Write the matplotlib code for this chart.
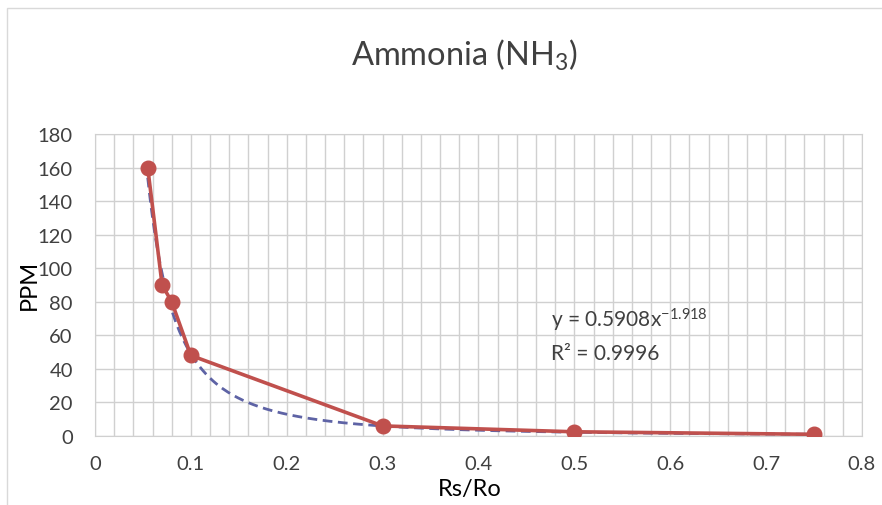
import matplotlib.pyplot as plt
import numpy as np
from matplotlib.patches import Rectangle

# データ
rs_ro = [0.055, 0.07, 0.08, 0.1, 0.3, 0.5, 0.75]
ppm = [160, 90, 80, 48, 6, 2.5, 1]
coef_a = 0.5908
coef_b = -1.918
r2 = 0.9996

x_ticks = [0, 0.1, 0.2, 0.3, 0.4, 0.5, 0.6, 0.7, 0.8]
y_ticks = [0, 20, 40, 60, 80, 100, 120, 140, 160, 180]

plt.rcParams['font.family'] = ['Lato', 'DejaVu Sans']
plt.rcParams['mathtext.fontset'] = 'custom'
plt.rcParams['mathtext.rm'] = 'Lato'
plt.rcParams['mathtext.it'] = 'Lato:italic'
plt.rcParams['mathtext.bf'] = 'Lato:bold'

fig = plt.figure(figsize=(8.82, 5.06), dpi=100)
ax = fig.add_axes([0.1077, 0.1364, 0.8696, 0.5968])

# 外枠
fig.patches.append(Rectangle((7 / 882, -0.1), 1.2, 1 - 9 / 506 + 0.1, transform=fig.transFigure,
                             fill=False, edgecolor='#D9D9D9', linewidth=1))

# トレンドライン (累乗近似)
xs = np.linspace(min(rs_ro), max(rs_ro), 400)
ax.plot(xs, coef_a * xs ** coef_b, color='#5E63A5', linestyle=(0, (3.5, 2)), linewidth=2, zorder=3)

# 実測値
ax.plot(rs_ro, ppm, color='#C0504D', linewidth=2.6, marker='o', markersize=10.5, zorder=4)

ax.set_xlim(0, 0.8)
ax.set_ylim(0, 180)
ax.set_xticks(x_ticks)
ax.set_xticklabels([f"{t:g}" for t in x_ticks])
ax.set_yticks(y_ticks)
ax.set_xticks(np.arange(0, 0.8001, 0.02), minor=True)
ax.grid(True, which='both', axis='x', color='#D0D0D0', linewidth=1)
ax.grid(True, which='major', axis='y', color='#D0D0D0', linewidth=1)
ax.tick_params(which='both', length=0, labelsize=14.5, colors='#404040')
ax.tick_params(axis='y', pad=16)
ax.tick_params(axis='x', pad=14)
for s in ax.spines.values():
    s.set_color('#D0D0D0')
ax.set_axisbelow(True)

fig.text(465 / 882, 1 - 55 / 506, 'Ammonia (NH$_\\mathregular{3}$)', ha='center', va='center',
         fontsize=23.5, color='#404040')
fig.text(29 / 882, 1 - 285 / 506, 'PPM', rotation=90, ha='center', va='center', fontsize=17, color='black')
fig.text(470 / 882, 1 - 490 / 506, 'Rs/Ro', ha='center', va='center', fontsize=17, color='black')

ax.text(0.476, 65, f'y = {coef_a}x$^{{\\mathregular{{{coef_b}}}}}$', fontsize=15, color='#404040')
ax.text(0.476, 46, f'R² = {r2}', fontsize=15, color='#404040')

fig.savefig('out.png', dpi=100)
